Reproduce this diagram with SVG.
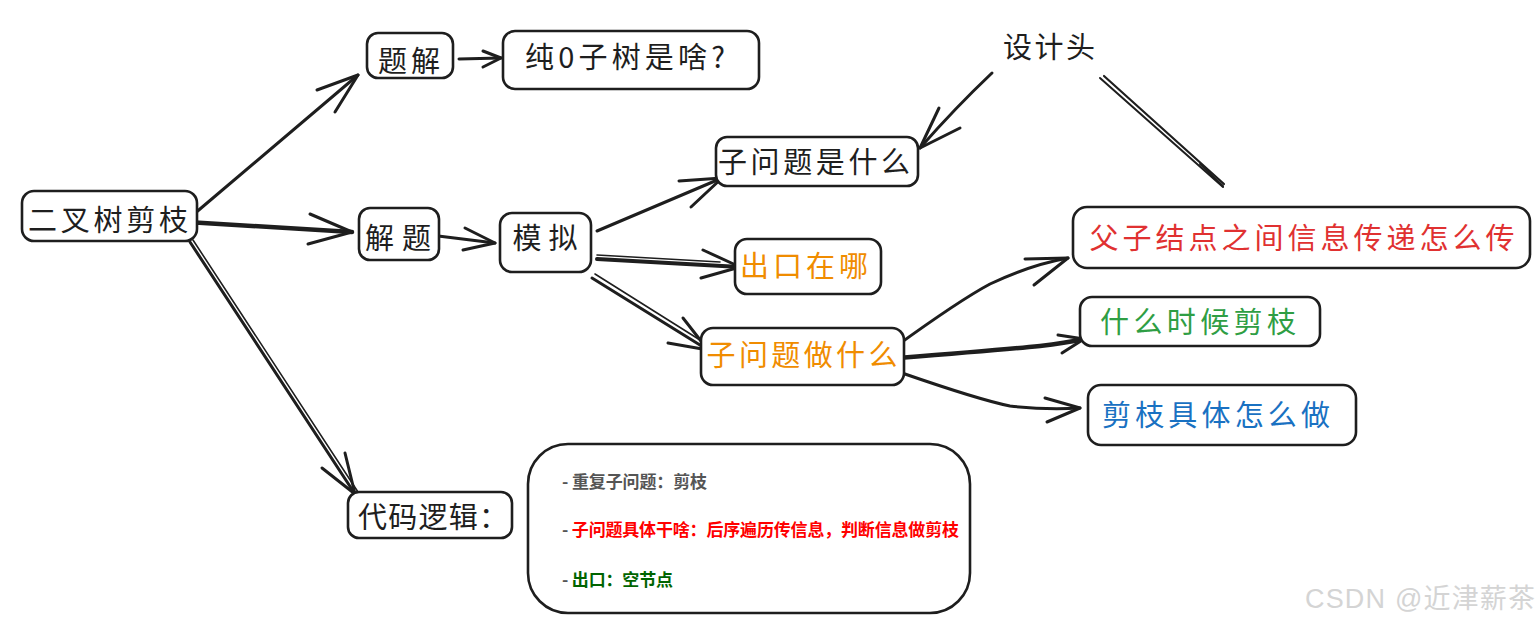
<svg xmlns="http://www.w3.org/2000/svg" width="1538" height="624" viewBox="0 0 1538 624">
<style>
.box{fill:#ffffff;stroke:#1e1e1e;stroke-width:2.6}
.t{font-family:"Noto Sans CJK SC","Noto Sans",sans-serif;font-size:29px;fill:#1e1e1e;text-anchor:middle}
.ln{fill:none;stroke:#1e1e1e;stroke-width:3;stroke-linecap:round;stroke-linejoin:round}
.thin{fill:none;stroke:#1e1e1e;stroke-width:1.6;stroke-linecap:round}
.note{font-family:"Noto Sans CJK SC","Noto Sans",sans-serif;font-size:17px;font-weight:bold}
.wm{font-family:"Liberation Sans","Noto Sans CJK SC",sans-serif;font-size:27px;fill:#d4d4d4}
</style>
<rect width="1538" height="624" fill="#ffffff"/>

<g id="connectors">
  <path class="ln" d="M187,220 L358,75"/>
  <path class="ln" d="M317,90 L358,75 L335,112"/>
  <path class="ln" style="stroke-width:4.5" d="M187,222 L352,232"/>
  <path class="ln" d="M310,214 L352,232 L308,244"/>
  <path class="ln" d="M190,242 L355,494"/>
  <path class="thin" d="M193,240 L358,492"/>
  <path class="ln" d="M345,453 L355,494 L322,468"/>
  <path class="ln" d="M459,59 L501,58"/>
  <path class="ln" d="M483,51 L501,58 L483,67"/>
  <path class="ln" d="M430,235 L495,243"/>
  <path class="ln" d="M465,228 L495,243 L463,250"/>
  <path class="ln" d="M597,231 L722,178"/>
  <path class="ln" d="M679,181 L722,178 L691,207"/>
  <path class="ln" style="stroke-width:4" d="M597,259 L740,267"/>
  <path class="thin" d="M597,255 L720,262"/>
  <path class="ln" d="M703,250 L740,267 L701,278"/>
  <path class="ln" d="M592,278 L708,350"/>
  <path class="thin" d="M595,274 L700,340"/>
  <path class="ln" d="M683,318 L708,350 L668,343"/>
  <path class="ln" d="M992,73 Q955,108 920,148"/>
  <path class="ln" d="M939,108 L920,148 L960,128"/>
  <path class="thin" style="stroke-width:2" d="M1100,78 L1223,187"/>
  <path class="thin" style="stroke-width:2.2" d="M1104,76 L1224,184"/>
  <path class="ln" style="stroke-width:2" d="M1200,164 L1223,186"/>
  <path class="ln" d="M895,347 Q960,300 990,284 Q1030,265 1068,258"/>
  <path class="ln" d="M1025,259 L1068,258 L1034,285"/>
  <path class="ln" style="stroke-width:4.5" d="M898,358 Q1000,350 1040,346 Q1065,343 1084,339"/>
  <path class="ln" d="M1058,335 L1084,339 L1062,353"/>
  <path class="ln" d="M902,373 Q980,400 1010,406 Q1045,410 1080,408"/>
  <path class="ln" d="M1045,398 L1080,408 L1047,422"/>
</g>

<g id="n-root">
  <rect class="box" x="22" y="191" width="175" height="50" rx="12"/>
  <text class="t" x="108" y="231" textLength="160">二叉树剪枝</text>
</g>
<g id="n-tijie">
  <rect class="box" x="367" y="33" width="86" height="45" rx="11"/>
  <text class="t" x="409" y="72" textLength="62">题解</text>
</g>
<g id="n-jieti">
  <rect class="box" x="359" y="208" width="80" height="52" rx="11"/>
  <text class="t" x="398" y="249" textLength="66">解题</text>
</g>
<g id="n-chun0">
  <rect class="box" x="503" y="31" width="256" height="58" rx="12"/>
  <text class="t" x="625" y="68" textLength="200">纯0子树是啥?</text>
</g>
<g id="n-moni">
  <rect class="box" x="500" y="213" width="91" height="59" rx="12"/>
  <text class="t" x="545" y="249" textLength="65">模拟</text>
</g>
<g id="n-shishenme">
  <rect class="box" x="716" y="137" width="202" height="49" rx="11"/>
  <text class="t" x="814" y="173" textLength="192">子问题是什么</text>
</g>
<g id="n-chukou">
  <rect class="box" x="735" y="239" width="146" height="55" rx="12"/>
  <text class="t" x="804" y="277" textLength="128" style="fill:#f08c00">出口在哪</text>
</g>
<g id="n-zuoshenme">
  <rect class="box" x="701" y="328" width="203" height="57" rx="12"/>
  <text class="t" x="802" y="366" textLength="191" style="fill:#f08c00">子问题做什么</text>
</g>
<g id="n-shejitou">
  <text class="t" x="1049" y="58" textLength="92">设计头</text>
</g>
<g id="n-fuzi">
  <rect class="box" x="1073" y="207" width="457" height="61" rx="14"/>
  <text class="t" x="1302" y="249" textLength="425" style="fill:#e03131">父子结点之间信息传递怎么传</text>
</g>
<g id="n-shenme">
  <rect class="box" x="1080" y="297" width="240" height="49" rx="12"/>
  <text class="t" x="1198" y="333" textLength="196" style="fill:#2f9e44">什么时候剪枝</text>
</g>
<g id="n-jianzhi">
  <rect class="box" x="1088" y="385" width="268" height="60" rx="13"/>
  <text class="t" x="1216" y="426" textLength="228" style="fill:#1971c2">剪枝具体怎么做</text>
</g>
<g id="n-daima">
  <rect class="box" x="348" y="492" width="164" height="46" rx="11"/>
  <text class="t" x="433" y="528" textLength="150">代码逻辑：</text>
</g>
<g id="n-note">
  <rect class="box" x="528" y="444" width="442" height="169" rx="40"/>
  <text class="note" x="562" y="488" textLength="145"><tspan fill="#555555">- 重复子问题：剪枝</tspan></text>
  <text class="note" x="562" y="536" textLength="397"><tspan fill="#555555">- </tspan><tspan fill="#ff0000">子问题具体干啥：后序遍历传信息，判断信息做剪枝</tspan></text>
  <text class="note" x="562" y="586" textLength="111"><tspan fill="#555555">- </tspan><tspan fill="#006400">出口：空节点</tspan></text>
</g>

<text class="wm" x="1305" y="608" textLength="230">CSDN @近津薪茶</text>
</svg>
